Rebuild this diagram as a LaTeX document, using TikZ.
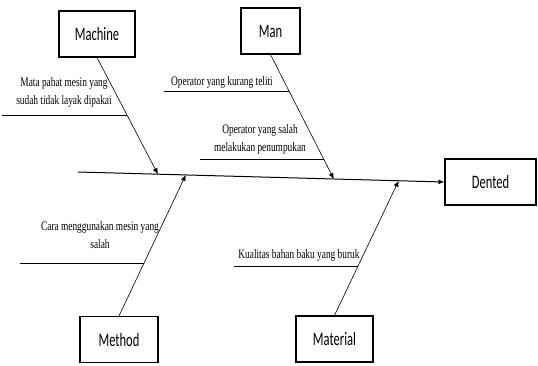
\documentclass[tikz,border=0pt]{standalone}
\usepackage{fontspec}
\usepackage{tikz}
\usetikzlibrary{arrows.meta,positioning,calc}
\newfontfamily\boxfont[FakeStretch=0.66]{Carlito}
\newfontfamily\causefont[FakeStretch=0.72]{Liberation Serif}

\begin{document}
\begin{tikzpicture}[
  x=1pt,y=-1pt,
  >={Latex[length=6pt,width=5pt]},
  box/.style={draw,line width=1.1pt,minimum height=46pt,inner sep=0pt,font=\boxfont\fontsize{19}{22}\selectfont},
  cause/.style={inner sep=0pt,align=center,font=\causefont\fontsize{13}{18}\selectfont},
  bone/.style={->,line width=0.6pt},
  rib/.style={line width=0.7pt},
  spine/.style={->,line width=1pt}
]
\useasboundingbox (0,0) rectangle (538,365);

% ---- category boxes ----
\node[box,minimum width=76pt] (machine) at (97,34) {Machine};
\node[box,minimum width=59pt] (man) at (270.5,31) {Man};
\node[box,minimum width=78pt] (method) at (119,339.5) {Method};
\node[box,minimum width=77pt] (material) at (334.5,339) {Material};
\node[box,minimum width=91pt] (dented) at (490.5,182) {Dented};

% ---- spine ----
\coordinate (tail) at (78,172);
\draw[spine] (tail) -- (dented.west);

% ---- bones ----
\coordinate (tmach) at ($(tail)!0.218!(dented.west)$);
\coordinate (tmeth) at ($(tail)!0.294!(dented.west)$);
\coordinate (tman) at ($(tail)!0.698!(dented.west)$);
\coordinate (tmat) at ($(tail)!0.875!(dented.west)$);
\draw[bone] (machine.south) -- (tmach);
\draw[bone] (man.south) -- (tman);
\draw[bone] (method.north) -- (tmeth);
\draw[bone] (material.north) -- (tmat);

% ---- causes ----
\coordinate (k1) at ($(machine.south)!0.495!(tmach)$);
\draw[rib] (k1) -- ++(-125,0);
\node[cause] (c1) at (64,92.5) {Mata pahat mesin yang\\sudah tidak layak dipakai};

\coordinate (k2) at ($(man.south)!0.296!(tman)$);
\draw[rib] (k2) -- ++(-125,0);
\node[cause] (c2) at (222,82) {Operator yang kurang teliti};

\coordinate (k3) at ($(man.south)!0.84!(tman)$);
\draw[rib] (k3) -- ++(-124,0);
\node[cause] (c3) at (260,139.5) {Operator yang salah\\melakukan penumpukan};

\coordinate (k4) at ($(method.north)!0.376!(tmeth)$);
\draw[rib] (k4) -- ++(-124,0);
\node[cause] (c4) at (100,235) {Cara menggunakan mesin yang\\salah};

\coordinate (k5) at ($(material.north)!0.362!(tmat)$);
\draw[rib] (k5) -- ++(-124,0);
\node[cause] (c5) at (299,255) {Kualitas bahan baku yang buruk};

\end{tikzpicture}
\end{document}
